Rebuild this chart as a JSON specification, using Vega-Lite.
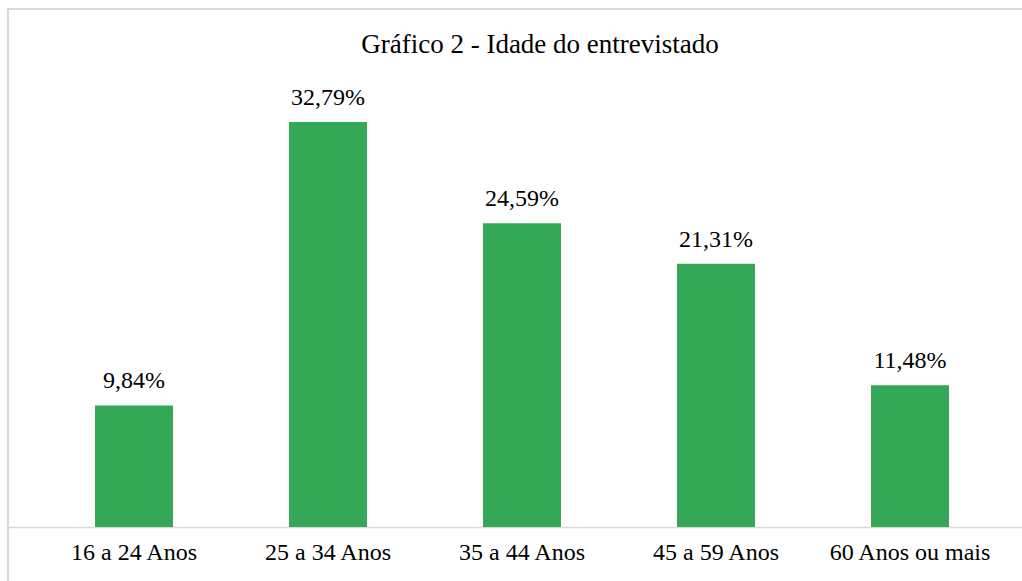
{
  "$schema": "https://vega.github.io/schema/vega-lite/v6.json",
  "autosize": "none",
  "width": 1028,
  "height": 575,
  "padding": {"left": 8, "top": 9, "right": 0, "bottom": 0},
  "background": "white",
  "config": {
    "locale": {"number": {"decimal": ",", "thousands": ".", "grouping": [3], "currency": ["R$", ""]}},
    "view": {"stroke": "#d9d9d9", "strokeWidth": 2},
    "font": "Liberation Serif"
  },
  "title": {
    "text": "Gráfico 2 - Idade do entrevistado",
    "font": "Liberation Serif",
    "fontSize": 27,
    "fontWeight": "normal",
    "color": "black",
    "anchor": "middle",
    "orient": "top",
    "offset": 0,
    "dy": 50,
    "dx": 18
  },
  "data": {
    "values": [
      {"faixa": "16 a 24 Anos", "valor": 0.0984},
      {"faixa": "25 a 34 Anos", "valor": 0.3279},
      {"faixa": "35 a 44 Anos", "valor": 0.2459},
      {"faixa": "45 a 59 Anos", "valor": 0.2131},
      {"faixa": "60 Anos ou mais", "valor": 0.1148}
    ]
  },
  "encoding": {
    "x": {
      "field": "faixa",
      "type": "nominal",
      "sort": null,
      "scale": {"paddingInner": 0.598, "paddingOuter": 0.4485},
      "axis": {
        "title": null,
        "offset": -57,
        "labelAngle": 0,
        "labelFont": "Liberation Serif",
        "labelFontSize": 24,
        "labelColor": "black",
        "labelPadding": 13,
        "ticks": false,
        "domainColor": "#d9d9d9",
        "domainWidth": 1.5
      }
    },
    "y": {
      "field": "valor",
      "type": "quantitative",
      "scale": {"domain": [-0.04615, 0.4194], "nice": false, "zero": false},
      "axis": null
    }
  },
  "layer": [
    {"mark": {"type": "bar", "color": "#35a857"}},
    {
      "mark": {"type": "text", "baseline": "bottom", "dy": -12, "fontSize": 24, "font": "Liberation Serif", "color": "black"},
      "encoding": {"text": {"field": "valor", "type": "quantitative", "format": ".2%"}}
    }
  ]
}
